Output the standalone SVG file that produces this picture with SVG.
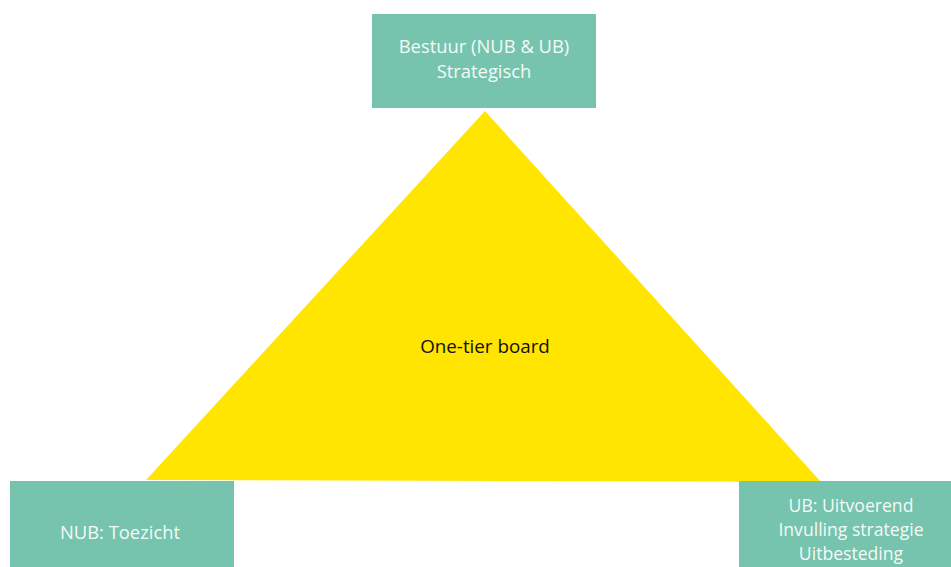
<svg xmlns="http://www.w3.org/2000/svg" width="951" height="567" viewBox="0 0 951 567">
  <style>
    .box { fill: #76c4ad; }
    .lbl { font-family: "Open Sans", "Noto Sans", "DejaVu Sans", sans-serif; font-size: 18.4px; fill: #f4faf7; text-anchor: middle; }
    .tight { font-size: 17.6px; }
    .core { font-family: "Open Sans", "Noto Sans", "DejaVu Sans", sans-serif; font-size: 18.8px; fill: #111111; text-anchor: middle; }
  </style>
  <rect width="951" height="567" fill="#ffffff"/>
  <g id="connectors"/>
  <g id="triangle">
    <polygon points="485,111 146,480 821,482" fill="#ffe500"/>
    <text class="core" x="485" y="353">One-tier board</text>
  </g>
  <g id="bestuur">
    <rect class="box" x="372" y="14" width="224" height="94"/>
    <text class="lbl" x="484" y="53">Bestuur (NUB &amp; UB)</text>
    <text class="lbl" x="484" y="78">Strategisch</text>
  </g>
  <g id="nub">
    <rect class="box" x="10" y="481" width="224" height="86"/>
    <text class="lbl" x="120" y="539">NUB: Toezicht</text>
  </g>
  <g id="ub">
    <rect class="box" x="739" y="481" width="224" height="86"/>
    <text class="lbl tight" x="851" y="512">UB: Uitvoerend</text>
    <text class="lbl tight" x="851" y="536">Invulling strategie</text>
    <text class="lbl tight" x="851" y="560">Uitbesteding</text>
  </g>
</svg>
